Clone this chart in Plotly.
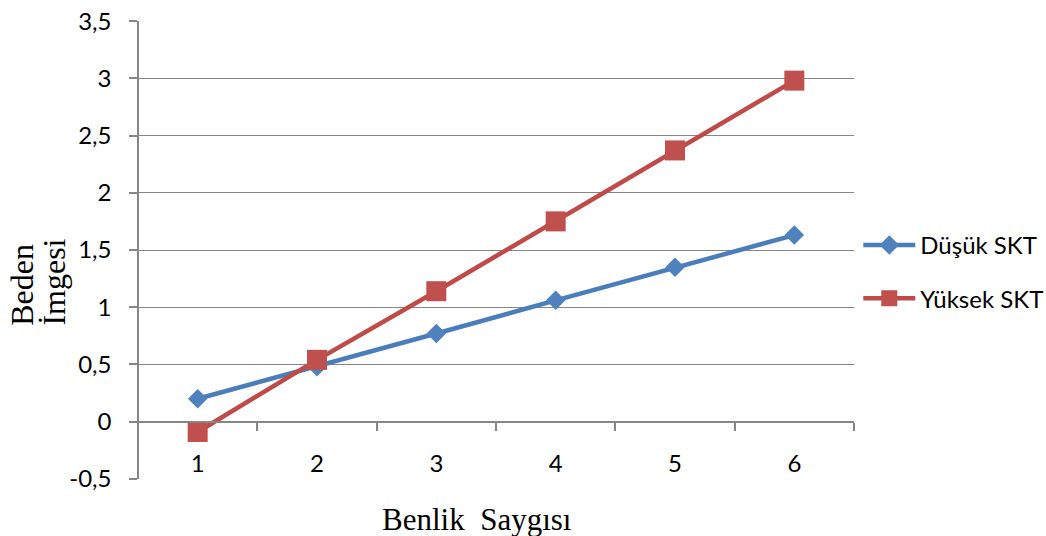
import plotly.graph_objects as go

# Benlik saygısı düzeyleri (kategori ekseni)
categories = ["1", "2", "3", "4", "5", "6"]

# Beden imgesi ortalamaları
dusuk_skt = [0.20, 0.48, 0.77, 1.06, 1.35, 1.63]
yuksek_skt = [-0.09, 0.54, 1.14, 1.75, 2.37, 2.98]

y_tickvals = [-0.5, 0, 0.5, 1, 1.5, 2, 2.5, 3, 3.5]
y_ticktext = ["-0,5", "0", "0,5", "1", "1,5", "2", "2,5", "3", "3,5"]

BLUE = "#4A7EBB"
RED = "#BE4B48"
GRID = "#868686"
TICK_FONT = dict(family="Lato", size=24, color="#000000")
SERIF = "Liberation Serif, Times New Roman, serif"

fig = go.Figure()
fig.add_trace(go.Scatter(
    x=categories, y=dusuk_skt, name="Düşük SKT", mode="lines+markers",
    line=dict(color=BLUE, width=4.5),
    marker=dict(symbol="diamond", size=15, color="#4F81BD"),
    legendgroup="a",
))
fig.add_trace(go.Scatter(
    x=categories, y=yuksek_skt, name="Yüksek SKT", mode="lines+markers",
    line=dict(color=RED, width=4.5),
    marker=dict(symbol="square", size=20, color="#C0504D"),
    legendgroup="b",
))

fig.update_layout(
    width=1046, height=536,
    margin=dict(l=138, r=192, t=21, b=57, autoexpand=False),
    paper_bgcolor="white", plot_bgcolor="white",
    showlegend=True,
    legend=dict(
        x=1.006, xanchor="left", y=0.452, yanchor="middle",
        font=TICK_FONT, itemwidth=52, tracegroupgap=19,
        traceorder="grouped", bgcolor="rgba(0,0,0,0)",
    ),
    xaxis=dict(
        type="category", tickson="boundaries", range=[-0.5, 5.5],
        anchor="free", position=0.125, automargin=False,
        showline=True, linecolor=GRID, linewidth=1.5,
        ticks="outside", ticklen=8, tickcolor=GRID, tickwidth=1.5,
        showgrid=False, zeroline=False,
        tickfont=TICK_FONT, ticklabelstandoff=21,
    ),
    yaxis=dict(
        range=[-0.501, 3.501], tickvals=y_tickvals, ticktext=y_ticktext,
        anchor="free", position=0, automargin=False,
        showline=True, linecolor=GRID, linewidth=1.5,
        ticks="outside", ticklen=8, tickcolor=GRID, tickwidth=1.5,
        showgrid=True, gridcolor=GRID, gridwidth=1.3,
        zeroline=False,
        tickfont=TICK_FONT, ticklabelstandoff=13,
    ),
    annotations=[
        dict(text="Benlik\u00a0 Saygısı", xref="paper", yref="paper",
             x=0.4735, y=-0.089, xanchor="center", yanchor="middle",
             showarrow=False, font=dict(family=SERIF, size=31, color="#000000")),
        dict(text="Beden", xref="paper", yref="paper",
             x=-0.162, y=0.33, xanchor="center", yanchor="bottom",
             textangle=-90, showarrow=False,
             font=dict(family=SERIF, size=32, color="#000000")),
        dict(text="İmgesi", xref="paper", yref="paper",
             x=-0.117, y=0.33, xanchor="center", yanchor="bottom",
             textangle=-90, showarrow=False,
             font=dict(family=SERIF, size=32, color="#000000")),
    ],
)

fig.write_html("out.html")
